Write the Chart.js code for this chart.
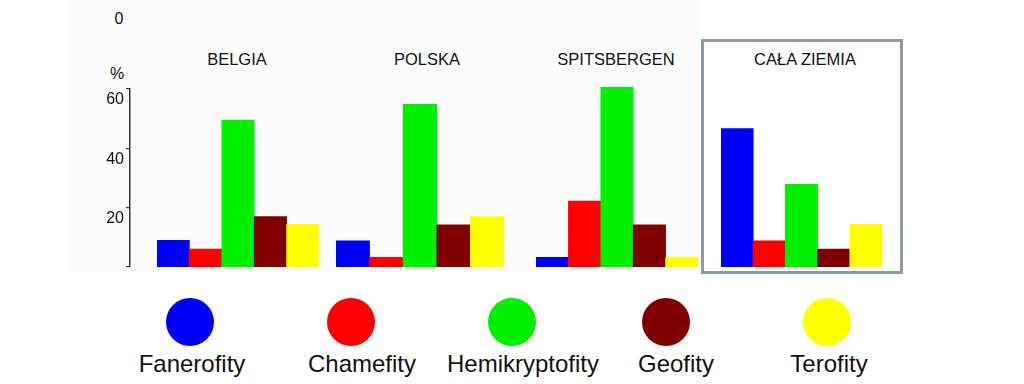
<!DOCTYPE html>
<html>
<head>
<meta charset="utf-8">
<script src="https://cdn.jsdelivr.net/npm/chart.js@4"></script>
<style>
    body { margin: 0; background: #fff; }
    #wrap {
        position: relative; width: 1024px; height: 384px; overflow: hidden;
        font-family: "Liberation Sans", Arial, sans-serif; color: #111;
    }
    #wrap canvas { position: absolute; }
    .scan { position: absolute; left: 68px; top: 0; width: 632px; height: 272px; background: #fbfbfb; }
    .title { position: absolute; width: 220px; text-align: center; font-size: 16.5px; line-height: 20px; }
    .axis-text { position: absolute; width: 30px; text-align: center; font-size: 16px; line-height: 18px; color: #111; }
    .box { position: absolute; left: 701px; top: 39px; width: 202px; height: 235px; border: 3px solid #8c9ca4; box-sizing: border-box; }
    .dot { position: absolute; width: 48px; height: 48px; border-radius: 50%; }
    .label { position: absolute; width: 220px; text-align: center; font-size: 24px; line-height: 28px; color: #111; }
</style>
</head>
<body>
<div id="wrap">
    <div class="scan"></div>
    <div class="box"></div>
    <div class="axis-text" style="left:104px; top:10px;">0</div>
    <div class="axis-text" style="left:102px; top:65px;">%</div>
    <canvas id="axisChart" width="60" height="218" style="left:80px; top:69px;"></canvas>
    <canvas id="chart0"></canvas>
    <canvas id="chart1"></canvas>
    <canvas id="chart2"></canvas>
    <canvas id="chart3"></canvas>
</div>
<script>
// Data (% of species in each life form)
const categories = ['Fanerofity', 'Chamefity', 'Hemikryptofity', 'Geofity', 'Terofity'];
const regions = ['BELGIA', 'POLSKA', 'SPITSBERGEN', 'CAŁA ZIEMIA'];
const belgia = [9, 6, 49.5, 17, 14.4];
const polska = [8.8, 3.3, 54.8, 14.2, 17];
const spitsbergen = [3.3, 22.2, 60.6, 14.2, 3.3];
const calaZiemia = [46.7, 8.8, 27.9, 6, 14.4];
const yTicks = [0, 20, 40, 60];

const colors = ['#0000f8', '#ff0000', '#00f000', '#800000', '#ffff00'];
const FONT = '"Liberation Sans", Arial, sans-serif';

// Layout of the panels (pixels)
const BASELINE = 267;
const AXIS_TOP = 89;          // pixel of the 60 % tick
const PX_PER_UNIT = (BASELINE - AXIS_TOP) / 60;
const PANEL_HEIGHT = 193;
const panelBoxes = [
    { left: 157, width: 162, center: 237 },
    { left: 336, width: 168, center: 427 },
    { left: 536, width: 162, center: 616 },
    { left: 721, width: 161, center: 805 }
];
const legendDots = [190, 351, 512, 666, 827];
const legendText = [192, 362, 523, 676, 829];

const panelData = [belgia, polska, spitsbergen, calaZiemia];

// Left axis (0-60 %)
new Chart(document.getElementById('axisChart'), {
    type: 'line',
    data: { labels: [], datasets: [] },
    options: {
        responsive: false,
        animation: false,
        events: [],
        layout: { padding: { top: 20, bottom: 20, left: 0, right: 0 } },
        plugins: { legend: { display: false }, tooltip: { enabled: false } },
        scales: {
            x: { display: false },
            y: {
                min: yTicks[0],
                max: yTicks[yTicks.length - 1],
                afterFit: (scale) => { scale.width = 50; },
                afterBuildTicks: (scale) => { scale.ticks = yTicks.map(v => ({ value: v })); },
                ticks: {
                    callback: (v) => v === 0 ? '' : v,
                    labelOffset: 11,
                    padding: 2,
                    color: '#111',
                    font: { family: FONT, size: 16 }
                },
                grid: { drawOnChartArea: false, tickLength: 4, color: '#333', lineWidth: 1.2 },
                border: { color: '#333', width: 1.5 }
            }
        }
    }
});

const wrap = document.getElementById('wrap');

// One bar panel per region
panelData.forEach((values, i) => {
    const box = panelBoxes[i];
    const canvas = document.getElementById('chart' + i);
    canvas.width = box.width;
    canvas.height = PANEL_HEIGHT;
    canvas.style.left = box.left + 'px';
    canvas.style.top = (BASELINE - PANEL_HEIGHT) + 'px';

    new Chart(canvas, {
        type: 'bar',
        data: {
            labels: categories,
            datasets: [{
                data: values,
                backgroundColor: colors,
                borderWidth: 0,
                barPercentage: 1,
                categoryPercentage: 1
            }]
        },
        options: {
            responsive: false,
            animation: false,
            events: [],
            layout: { padding: 0 },
            plugins: { legend: { display: false }, tooltip: { enabled: false } },
            scales: {
                x: {
                    display: true,
                    z: 1,
                    afterFit: (scale) => { scale.height = 0; },
                    grid: { display: false },
                    ticks: { display: false },
                    border: { display: true, color: '#111', width: 1 }
                },
                y: { display: false, min: 0, max: PANEL_HEIGHT / PX_PER_UNIT }
            }
        }
    });

    const t = document.createElement('div');
    t.className = 'title';
    t.textContent = regions[i];
    t.style.left = (box.center - 110) + 'px';
    t.style.top = '49px';
    wrap.appendChild(t);
});

// Legend: coloured dots with names underneath
categories.forEach((name, i) => {
    const dot = document.createElement('div');
    dot.className = 'dot';
    dot.style.background = colors[i];
    dot.style.left = (legendDots[i] - 24) + 'px';
    dot.style.top = '298px';
    wrap.appendChild(dot);

    const lab = document.createElement('div');
    lab.className = 'label';
    lab.textContent = name;
    lab.style.left = (legendText[i] - 110) + 'px';
    lab.style.top = '350px';
    wrap.appendChild(lab);
});
</script>
</body>
</html>
